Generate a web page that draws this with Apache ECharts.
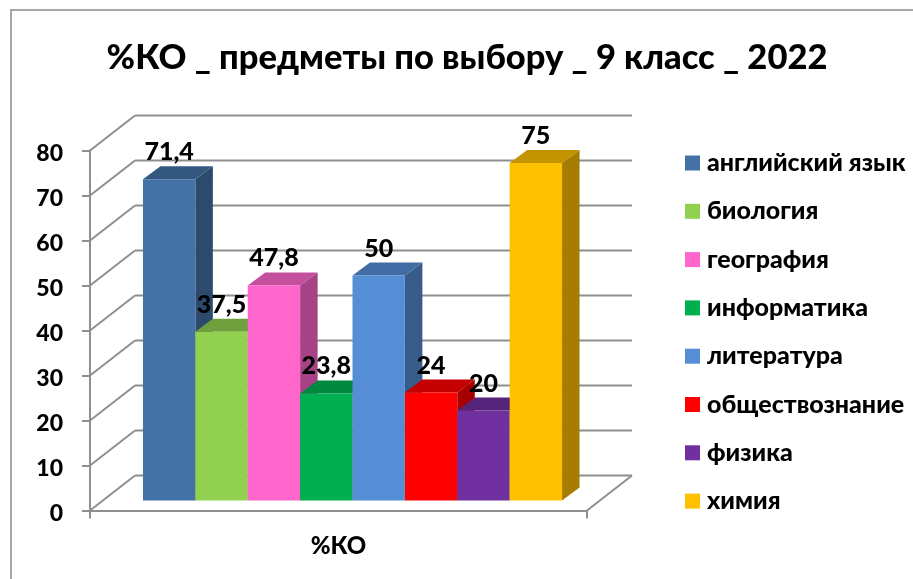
<!DOCTYPE html>
<html>
<head>
<meta charset="utf-8">
<title>%КО</title>
<style>
  html, body { margin: 0; padding: 0; background: #fff; }
  #chart { width: 913px; height: 579px; }
</style>
</head>
<body>
<div id="chart"></div>
<script src="https://cdn.jsdelivr.net/npm/echarts@6/dist/echarts.min.js"></script>
<script>
  const titleText = '%КО _ предметы по выбору _ 9 класс _ 2022'
  const categories = ['%КО']
  const subjects = ['английский язык', 'биология', 'география', 'информатика', 'литература', 'обществознание', 'физика', 'химия']
  const values = [71.4, 37.5, 47.8, 23.8, 50, 24, 20, 75]
  const yTicks = [0, 10, 20, 30, 40, 50, 60, 70, 80]
  const colors = ['#4472A6', '#92D050', '#FF66CC', '#00B050', '#558ED5', '#FF0000', '#7030A0', '#FFC000']

  const fontName = 'Lato, "Open Sans", sans-serif'
  const wallDx = 45
  const wallDy = -35
  const lineColor = '#8f8f8f'

  function shade (hex, k) {
    const n = parseInt(hex.slice(1), 16)
    const r = Math.round((n >> 16) * k)
    const g = Math.round(((n >> 8) & 255) * k)
    const b = Math.round((n & 255) * k)
    return 'rgb(' + r + ',' + g + ',' + b + ')'
  }

  // api.coord gives the middle of the category band, so step back half a band
  function renderWalls (params, api) {
    const tick = api.value(0)
    const band = api.size([1, 0])[0]
    const p = api.coord([0, tick])
    const left = p[0] - band / 2
    const style = { stroke: lineColor, lineWidth: 2, fill: 'none' }
    const children = [
      { type: 'line', shape: { x1: left, y1: p[1], x2: left + wallDx, y2: p[1] + wallDy }, style: style },
      { type: 'line', shape: { x1: left + wallDx, y1: p[1] + wallDy, x2: left + band + wallDx, y2: p[1] + wallDy }, style: style }
    ]
    if (tick === 0) {
      children.push({ type: 'line', shape: { x1: left + band, y1: p[1], x2: left + band + wallDx, y2: p[1] + wallDy }, style: style })
    }
    return { type: 'group', children: children }
  }

  function makeRenderBar (index) {
    return function (params, api) {
      const band = api.size([1, 0])[0]
      const w = band * 0.1054
      const center = api.coord([0, 0])[0] + 14
      const base = api.coord([0, 0])[1] - 10
      const v = api.value(1)
      const top = api.coord([0, v])[1] - 10
      const x = center - w * subjects.length / 2 + index * w
      const dx = 17.5
      const dy = -13
      const c = colors[index]
      return {
        type: 'group',
        children: [
          { type: 'polygon', shape: { points: [[x + w, top], [x + w + dx, top + dy], [x + w + dx, base + dy], [x + w, base]] }, style: { fill: shade(c, 0.65) } },
          { type: 'polygon', shape: { points: [[x, top], [x + dx, top + dy], [x + w + dx, top + dy], [x + w, top]] }, style: { fill: shade(c, 0.77) } },
          { type: 'rect', shape: { x: x, y: top, width: w, height: base - top }, style: { fill: c } },
          {
            type: 'text',
            z2: 100,
            style: {
              x: x + w / 2,
              y: top - 27,
              text: String(v).replace('.', ','),
              fill: '#000',
              font: '900 25px ' + fontName,
              textAlign: 'center',
              textVerticalAlign: 'middle'
            }
          }
        ]
      }
    }
  }

  const series = [{
    name: 'walls',
    type: 'custom',
    silent: true,
    renderItem: renderWalls,
    data: yTicks.map(t => [t]),
    encode: { y: 0 },
    z: 1
  }]
  subjects.forEach((name, i) => {
    series.push({
      name: name,
      type: 'custom',
      renderItem: makeRenderBar(i),
      itemStyle: { color: colors[i] },
      data: [[0, values[i]]],
      encode: { x: 0, y: 1 },
      z: 2
    })
  })

  const chart = echarts.init(document.getElementById('chart'))
  chart.setOption({
    animation: false,
    backgroundColor: '#fff',
    title: {
      text: titleText,
      left: 462,
      top: 35,
      textAlign: 'center',
      textStyle: { fontFamily: fontName, fontWeight: 900, fontSize: 34.5, color: '#000' }
    },
    legend: {
      data: subjects,
      orient: 'vertical',
      left: 685,
      top: 150.5,
      padding: 0,
      icon: 'rect',
      itemWidth: 15,
      itemHeight: 15,
      itemGap: 23.3,
      textStyle: { fontFamily: fontName, fontWeight: 900, fontSize: 25, color: '#000', padding: [0, 0, 0, 2] }
    },
    grid: { left: 90, right: 326, top: 150.5, bottom: 68.5 },
    xAxis: {
      type: 'category',
      data: categories,
      axisLine: { lineStyle: { color: lineColor, width: 2 } },
      axisTick: { show: true, length: 8, lineStyle: { color: lineColor, width: 2 } },
      axisLabel: { margin: 24, color: '#000', fontFamily: fontName, fontWeight: 900, fontSize: 24 }
    },
    yAxis: {
      type: 'value',
      min: 0,
      max: 80,
      interval: 10,
      splitLine: { show: false },
      axisLine: { show: true, lineStyle: { color: lineColor, width: 2 } },
      axisTick: { show: true, length: 8, lineStyle: { color: lineColor, width: 2 } },
      axisLabel: {
        margin: 27,
        formatter: '{v|{value}}',
        rich: { v: { padding: [7, 0, 0, 0], color: '#000', fontFamily: fontName, fontWeight: 900, fontSize: 23 } }
      }
    },
    graphic: [{
      type: 'rect',
      shape: { x: 11, y: 10, width: 1000, height: 700 },
      style: { fill: 'none', stroke: '#a6a6a6', lineWidth: 2 },
      silent: true
    }],
    series: series
  })
</script>
</body>
</html>
